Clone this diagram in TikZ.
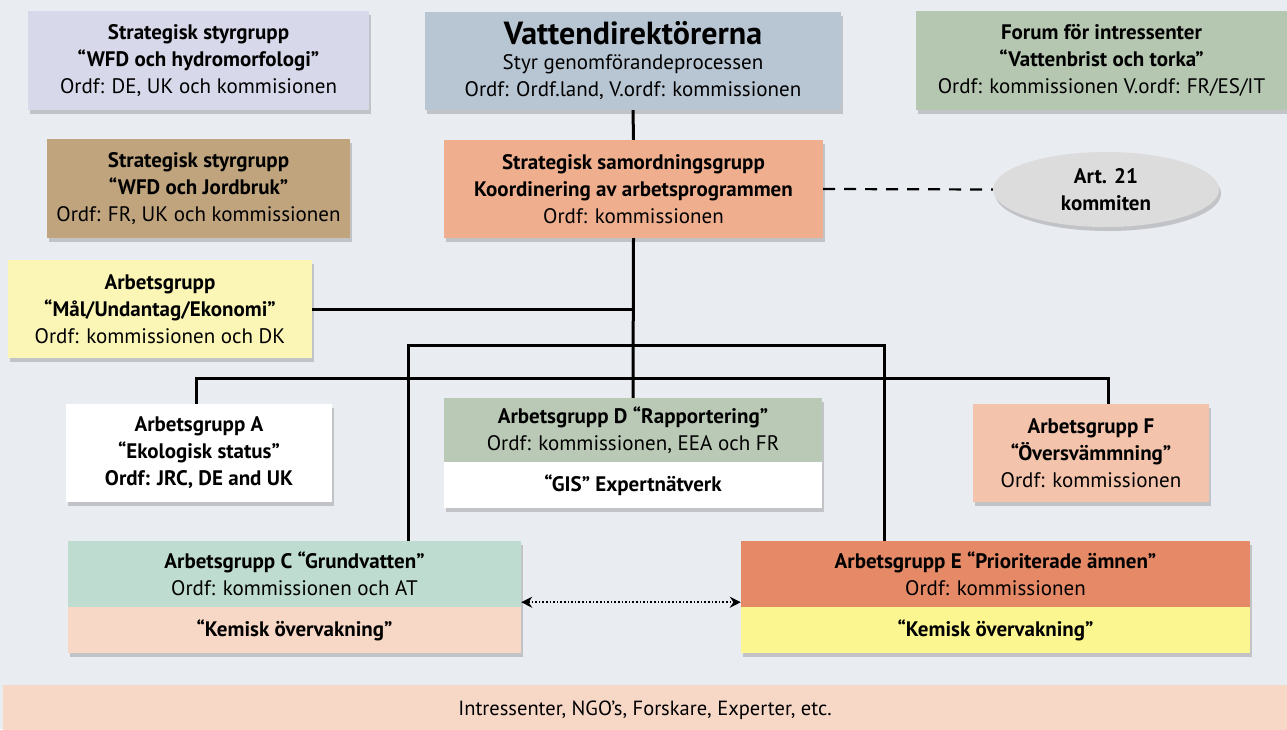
\documentclass[tikz,border=0pt]{standalone}
\usepackage{fontspec}
\setmainfont{PT Sans}
\usetikzlibrary{arrows.meta,shadows,shapes.geometric}
\definecolor{bgc}{HTML}{E9ECF1}
\definecolor{lav}{HTML}{D7D8EA}
\definecolor{vdblue}{HTML}{B8C5D3}
\definecolor{forumg}{HTML}{B6C7B1}
\definecolor{tan}{HTML}{BFA47E}
\definecolor{ssgc}{HTML}{EFAF8F}
\definecolor{artg}{HTML}{DCDCDC}
\definecolor{malc}{HTML}{FBF6B6}
\definecolor{dgreen}{HTML}{BAC9B6}
\definecolor{fpeach}{HTML}{F3C3AC}
\definecolor{cgreen}{HTML}{BEDCCF}
\definecolor{cpeach}{HTML}{F7D8C7}
\definecolor{eorange}{HTML}{E58966}
\definecolor{eyellow}{HTML}{FBF68F}
\tikzset{
  box/.style={rectangle, inner sep=0pt, align=center, font=\fontsize{21}{27}\selectfont,
     drop shadow={shadow xshift=2pt, shadow yshift=-4pt, opacity=0.25, fill=black!70}},
  part/.style={rectangle, inner sep=0pt, align=center, font=\fontsize{21}{27}\selectfont},
  conn/.style={line width=3pt, black},
  dashconn/.style={line width=2.2pt, black, dash pattern=on 12pt off 9pt},
  dotconn/.style={line width=1.6pt, black, dotted, {Stealth[length=11pt,width=11pt]}-{Stealth[length=11pt,width=11pt]}}
}
\begin{document}
\begin{tikzpicture}[x=1pt,y=-1pt]
\fill[bgc] (0,0) rectangle (1287,729);
\useasboundingbox (0,0) rectangle (1287,729);

% top row
\node[box, fill=lav, minimum width=341pt, minimum height=99pt] (hydro) at (198.5,60.5)
  {\textbf{Strategisk styrgrupp}\\\textbf{“WFD och hydromorfologi”}\\Ordf: DE, UK och kommisionen};
\node[box, fill=vdblue, minimum width=416pt, minimum height=98pt] (vd) at (633,61)
  {{\fontsize{32}{34}\selectfont\bfseries Vattendirektörerna}\\[-2pt]Styr genomförandeprocessen\\Ordf: Ordf.land, V.ordf: kommissionen};
\node[box, fill=forumg, minimum width=371pt, minimum height=99pt] (forum) at (1101.5,60.5)
  {\textbf{Forum för intressenter}\\\textbf{“Vattenbrist och torka”}\\Ordf: kommissionen V.ordf: FR/ES/IT};

% second row
\node[box, fill=tan, minimum width=303pt, minimum height=99pt] (jord) at (198.5,188.5)
  {\textbf{Strategisk styrgrupp}\\\textbf{“WFD och Jordbruk”}\\Ordf: FR, UK och kommissionen};
\node[box, fill=ssgc, minimum width=379pt, minimum height=98pt] (ssg) at (633.5,189)
  {\textbf{Strategisk samordningsgrupp}\\\textbf{Koordinering av arbetsprogrammen}\\Ordf: kommissionen};
\node[box, ellipse, fill=artg, minimum width=226pt, minimum height=75pt] (art) at (1106,189.5)
  {\textbf{Art. 21}\\\textbf{kommiten}};

% third row
\node[box, fill=malc, minimum width=304pt, minimum height=98pt] (mal) at (160,309)
  {\textbf{Arbetsgrupp}\\\textbf{“Mål/Undantag/Ekonomi”}\\Ordf: kommissionen och DK};

% fourth row
\node[box, fill=white, minimum width=266pt, minimum height=98pt] (a) at (199,453)
  {\textbf{Arbetsgrupp A}\\\textbf{“Ekologisk status”}\\\textbf{Ordf: JRC, DE and UK}};
\node[box, fill=white, minimum width=378pt, minimum height=110pt] (dframe) at (633,453) {};
\node[part, fill=dgreen, minimum width=378pt, minimum height=64pt] (d) at (633,430)
  {\textbf{Arbetsgrupp D “Rapportering”}\\Ordf: kommissionen, EEA och FR};
\node[part, minimum width=378pt, minimum height=46pt] (dgis) at (633,485)
  {\textbf{“GIS” Expertnätverk}};
\node[box, fill=fpeach, minimum width=236pt, minimum height=98pt] (f) at (1091,453)
  {\textbf{Arbetsgrupp F}\\\textbf{“Översvämmning”}\\Ordf: kommissionen};

% fifth row
\node[box, fill=cpeach, minimum width=453pt, minimum height=112pt] (cframe) at (294.5,597) {};
\node[part, fill=cgreen, minimum width=453pt, minimum height=66pt] (c) at (294.5,574)
  {\textbf{Arbetsgrupp C “Grundvatten”}\\Ordf: kommissionen och AT};
\node[part, minimum width=453pt, minimum height=46pt] (ckem) at (294.5,630)
  {\textbf{“Kemisk övervakning”}};
\node[box, fill=eyellow, minimum width=509pt, minimum height=112pt] (eframe) at (995.5,597) {};
\node[part, fill=eorange, minimum width=509pt, minimum height=66pt] (e) at (995.5,574)
  {\textbf{Arbetsgrupp E “Prioriterade ämnen”}\\Ordf: kommissionen};
\node[part, minimum width=509pt, minimum height=46pt] (ekem) at (995.5,630)
  {\textbf{“Kemisk övervakning”}};

% bottom band
\node[box, fill=cpeach, minimum width=1284pt, minimum height=50pt, font=\fontsize{20.5}{24}\selectfont] (stake) at (645,710)
  {Intressenter, NGO’s, Forskare, Experter, etc.};

% connectors
\coordinate (hAF) at (633,378);
\coordinate (loop) at (633,345);
\draw[conn] (vd.south) -- (ssg.north);
\draw[conn] (ssg.south) -- (d.north);
\draw[conn] (mal.east) -- (mal.east -| ssg.south);
\draw[conn] ([xshift=-3pt]a.north) |- (hAF) -| ([xshift=17pt]f.north);
\draw[conn] ([xshift=113.5pt]c.north) |- (loop) -| ([xshift=-111.5pt]e.north);
\draw[dashconn] (ssg.east) -- (art.west);
\draw[dotconn] ([yshift=5pt]c.south east) -- ([yshift=5pt]e.south west);
\end{tikzpicture}
\end{document}
